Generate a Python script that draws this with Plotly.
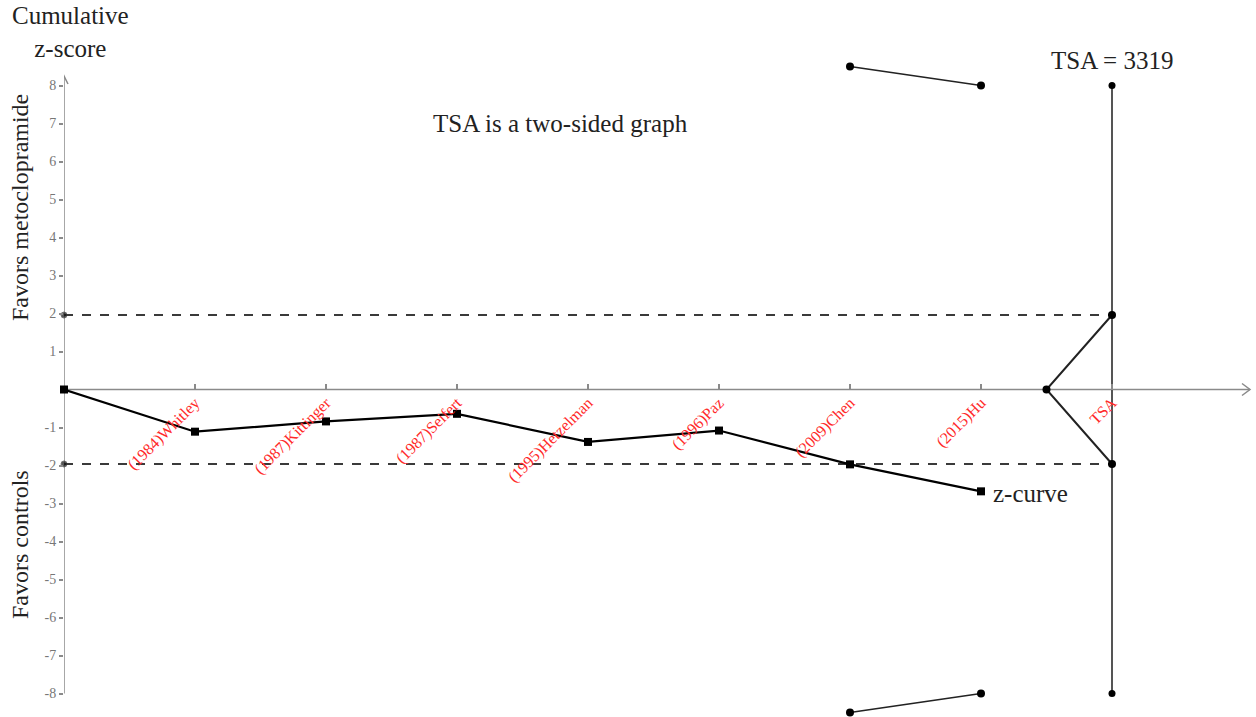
import plotly.graph_objects as go

# Trial sequential analysis: cumulative z-curve against monitoring boundaries
studies = ["(1984)Whitley", "(1987)Kittinger", "(1987)Seifert", "(1995)Hetzelman",
           "(1996)Paz", "(2009)Chen", "(2015)Hu"]
study_pos = [1, 2, 3, 4, 5, 6, 7]
z_x = [0, 1, 2, 3, 4, 5, 6, 7]
z_curve = [0.0, -1.11, -0.84, -0.64, -1.38, -1.08, -1.97, -2.68]

# O'Brien-Fleming type monitoring boundaries
bound_x = [6, 7]
upper_bound = [8.5, 8.0]
lower_bound = [-8.5, -8.0]

# conventional significance level and required information size
z_crit = 1.96
tsa_pos = 8
tsa_apex = 7.5
tsa_extent = 8.0
ris_label = "TSA = 3319"

y_ticks = [-8, -7, -6, -5, -4, -3, -2, -1, 1, 2, 3, 4, 5, 6, 7, 8]

SERIF = "Liberation Serif"
W, H = 1256, 717
LEFT = 64
PX_X = 131.0   # pixels per x unit
PX_Y = 38.0    # pixels per z unit
ZERO_Y = 389.5  # pixel row of z = 0
PLOT_W = W - LEFT

x_range = [0, PLOT_W / PX_X]
y_range = [-(H - ZERO_Y) / PX_Y, ZERO_Y / PX_Y]


def px_to_paper_x(px):
    return (px - LEFT) / PLOT_W


def px_to_paper_y(py):
    return (H - py) / H


def font(size):
    return dict(family=SERIF, color="#222", size=size)


fig = go.Figure()

# significance lines at +/-1.96
for lvl in (z_crit, -z_crit):
    fig.add_trace(go.Scatter(
        x=[0, tsa_pos], y=[lvl, lvl], mode="lines+markers",
        line=dict(color="#3a3a3a", width=2, dash="dash"),
        marker=dict(color="#111", size=[6, 0]),
        showlegend=False, hoverinfo="skip", cliponaxis=False))

# TSA vertical line
fig.add_trace(go.Scatter(
    x=[tsa_pos, tsa_pos], y=[-tsa_extent, tsa_extent], mode="lines+markers",
    line=dict(color="#555", width=2), marker=dict(color="#000", size=7),
    showlegend=False, cliponaxis=False))

# futility cone
fig.add_trace(go.Scatter(
    x=[tsa_pos, tsa_apex, tsa_pos], y=[z_crit, 0, -z_crit], mode="lines+markers",
    line=dict(color="#222", width=2), marker=dict(color="#000", size=8),
    showlegend=False, cliponaxis=False))

# monitoring boundaries
for b in (upper_bound, lower_bound):
    fig.add_trace(go.Scatter(
        x=bound_x, y=b, mode="lines+markers",
        line=dict(color="#222", width=1.6), marker=dict(color="#000", size=8),
        showlegend=False, cliponaxis=False))

# cumulative z-curve
fig.add_trace(go.Scatter(
    x=z_x, y=z_curve, mode="lines+markers",
    line=dict(color="#000", width=2.2),
    marker=dict(symbol="square", color="#000", size=8),
    showlegend=False, cliponaxis=False))

# axis lines with open arrowheads
ax_col = "#8a8a8a"
y_top = 8.25
x_end = (1250 - LEFT) / PX_X
shapes = [
    dict(type="line", xref="x", yref="y", x0=0, x1=0, y0=-8, y1=y_top,
         line=dict(color=ax_col, width=1.5), layer="below"),
    dict(type="line", xref="x", yref="y", x0=0, x1=x_end, y0=0, y1=0,
         line=dict(color=ax_col, width=1.5), layer="below"),
    dict(type="path", xref="x", yref="y",
         path=f"M {-4/PX_X},{y_top-8/PX_Y} L 0,{y_top} L {4/PX_X},{y_top-8/PX_Y}",
         line=dict(color=ax_col, width=1.5)),
    dict(type="path", xref="x", yref="y",
         path=f"M {x_end-8/PX_X},{6/PX_Y} L {x_end},0 L {x_end-8/PX_X},{-6/PX_Y}",
         line=dict(color=ax_col, width=1.5)),
]

annotations = [
    dict(text="Cumulative<br>z-score", x=px_to_paper_x(70), y=1.0,
         xref="paper", yref="paper", xanchor="center", yanchor="top",
         showarrow=False, font=font(25), align="center"),
    dict(text="Favors metoclopramide", x=px_to_paper_x(20), y=px_to_paper_y(208),
         xref="paper", yref="paper", textangle=-90, showarrow=False, font=font(24),
         xanchor="center", yanchor="middle"),
    dict(text="Favors controls", x=px_to_paper_x(20), y=px_to_paper_y(545),
         xref="paper", yref="paper", textangle=-90, showarrow=False, font=font(24),
         xanchor="center", yanchor="middle"),
    dict(text="TSA is a two-sided graph", x=(560 - LEFT) / PX_X, y=(ZERO_Y - 123) / PX_Y,
         xref="x", yref="y", showarrow=False, font=font(25)),
    dict(text=ris_label, x=tsa_pos, y=(ZERO_Y - 60) / PX_Y,
         xref="x", yref="y", showarrow=False, font=font(25)),
    dict(text="z-curve", x=7.08, y=z_curve[-1] - 0.05, xref="x", yref="y",
         xanchor="left", showarrow=False, font=font(25)),
]

fig.update_layout(
    width=W, height=H,
    margin=dict(l=LEFT, r=0, t=0, b=0),
    plot_bgcolor="white", paper_bgcolor="white",
    shapes=shapes, annotations=annotations,
    xaxis=dict(range=x_range, showgrid=False, zeroline=False, showline=False,
               anchor="free", position=(H - ZERO_Y) / H,
               tickvals=study_pos + [tsa_pos], ticktext=studies + ["TSA"],
               ticks="inside", ticklen=6, tickcolor=ax_col, tickwidth=1.5,
               tickangle=-45, tickfont=dict(family=SERIF, color="#ff2a2a", size=16),
               automargin=False),
    yaxis=dict(range=y_range, showgrid=False, zeroline=False, showline=False,
               tickvals=y_ticks, ticktext=[str(v) for v in y_ticks],
               ticks="outside", ticklen=4, tickcolor=ax_col, tickwidth=1.5,
               tickfont=dict(family=SERIF, color="#777", size=14),
               automargin=False),
)

fig.write_html("out.html")
